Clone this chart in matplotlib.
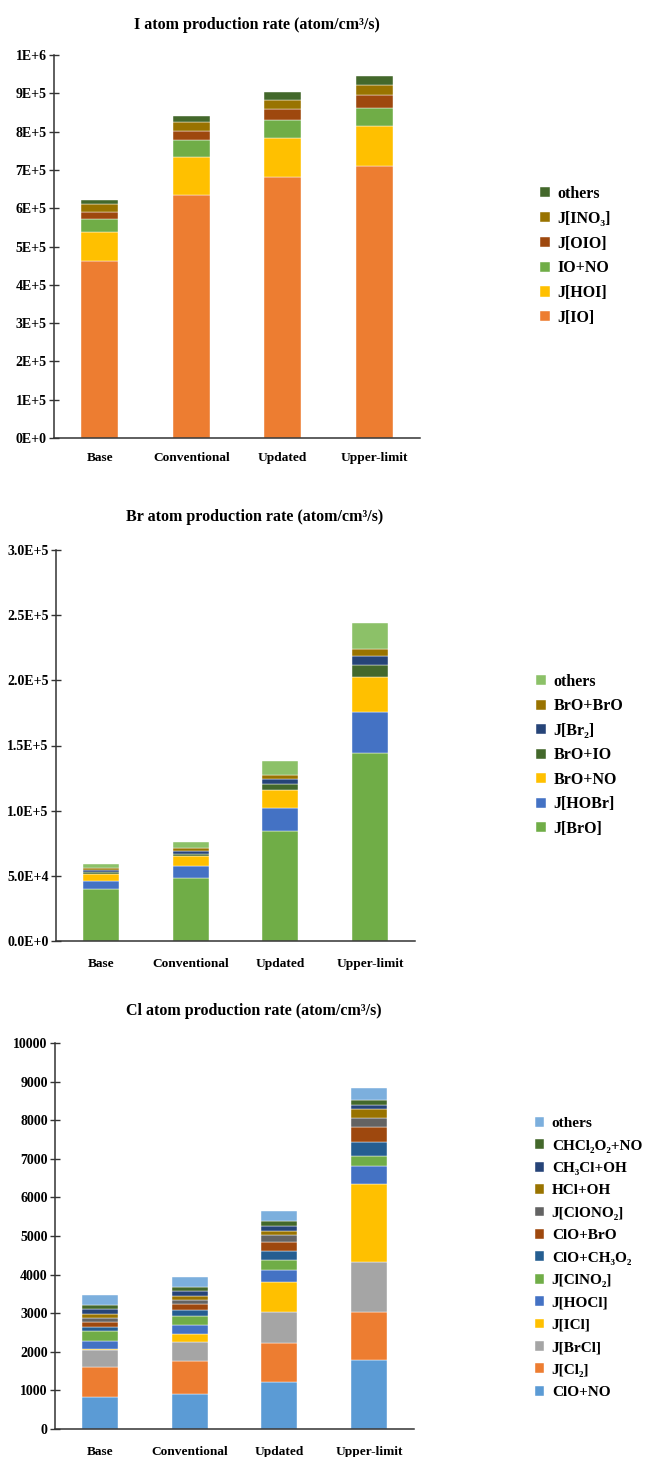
import numpy as np
import matplotlib.pyplot as plt
from matplotlib.ticker import FixedLocator, FuncFormatter

plt.rcParams['font.family'] = ['Liberation Serif', 'DejaVu Serif']
plt.rcParams['font.weight'] = 'bold'

scenarios = ["Base", "Conventional", "Updated", "Upper-limit"]

# I atom production terms (atom/cm3/s), stacked bottom to top
i_labels = ["J[IO]", "J[HOI]", "IO+NO", "J[OIO]", "J[INO₃]", "others"]
i_colors = ["#ED7D31", "#FFC000", "#70AD47", "#9E480E", "#997300", "#43682B"]
i_io = [4.61e5, 6.35e5, 6.82e5, 7.11e5]
i_hoi = [0.77e5, 0.99e5, 1.02e5, 1.04e5]
i_iono = [0.34e5, 0.43e5, 0.46e5, 0.47e5]
i_oio = [0.19e5, 0.25e5, 0.29e5, 0.34e5]
i_ino3 = [0.20e5, 0.24e5, 0.24e5, 0.26e5]
i_others = [0.10e5, 0.16e5, 0.20e5, 0.24e5]

# Br atom production terms
br_labels = ["J[BrO]", "J[HOBr]", "BrO+NO", "BrO+IO", "J[Br₂]", "BrO+BrO", "others"]
br_colors = ["#70AD47", "#4472C4", "#FFC000", "#43682B", "#264478", "#997300", "#8CC168"]
br_bro = [3.99e4, 4.86e4, 8.41e4, 14.43e4]
br_hobr = [0.64e4, 0.92e4, 1.77e4, 3.11e4]
br_brono = [0.54e4, 0.71e4, 1.43e4, 2.72e4]
br_broio = [0.10e4, 0.16e4, 0.46e4, 0.94e4]
br_br2 = [0.15e4, 0.23e4, 0.36e4, 0.70e4]
br_brobro = [0.21e4, 0.26e4, 0.33e4, 0.53e4]
br_others = [0.30e4, 0.48e4, 1.05e4, 1.94e4]

# Cl atom production terms
cl_labels = ["ClO+NO", "J[Cl₂]", "J[BrCl]", "J[ICl]", "J[HOCl]", "J[ClNO₂]",
             "ClO+CH₃O₂", "ClO+BrO", "J[ClONO₂]", "HCl+OH", "CH₃Cl+OH",
             "CHCl₂O₂+NO", "others"]
cl_colors = ["#5B9BD5", "#ED7D31", "#A5A5A5", "#FFC000", "#4472C4", "#70AD47",
             "#255E91", "#9E480E", "#636363", "#997300", "#264478", "#43682B",
             "#7CAFDD"]
cl_clono = [829, 915, 1218, 1777]
cl_cl2 = [785, 847, 1010, 1262]
cl_brcl = [440, 482, 793, 1287]
cl_icl = [26, 207, 795, 2029]
cl_hocl = [200, 233, 311, 466]
cl_clno2 = [249, 251, 259, 259]
cl_clo_ch3o2 = [113, 156, 233, 355]
cl_clo_bro = [138, 137, 226, 397]
cl_clono2 = [103, 114, 171, 225]
cl_hcl_oh = [96, 93, 121, 223]
cl_ch3cl_oh = [130, 140, 130, 122]
cl_chcl2o2 = [111, 112, 111, 111]
cl_others = [240, 240, 260, 320]

W, H = 648, 1457
fig = plt.figure(figsize=(W / 100, H / 100), dpi=100)


def px_axes(left, top, right, bottom):
    return fig.add_axes([left / W, 1 - bottom / H, (right - left) / W, (bottom - top) / H])


def stacked_panel(ax, series, labels, colors, title, ylim, ticks, fmt,
                  title_y, leg_x, leg_top, leg_size, leg_step, label_pad):
    x = np.arange(len(scenarios))
    bottom = np.zeros(len(scenarios))
    handles = []
    for vals, lab, col in zip(series, labels, colors):
        vals = np.asarray(vals, dtype=float)
        b = ax.bar(x, vals, width=0.4, bottom=bottom, color=col, label=lab,
                   edgecolor="white", linewidth=0.3)
        handles.append(b)
        bottom += vals
    ax.set_xlim(-0.5, 3.5)
    ax.set_ylim(*ylim)
    ax.yaxis.set_major_locator(FixedLocator(ticks))
    ax.yaxis.set_major_formatter(FuncFormatter(fmt))
    ax.set_xticks(x)
    ax.set_xticklabels(scenarios)
    for s in ("top", "right"):
        ax.spines[s].set_visible(False)
    for s in ("left", "bottom"):
        ax.spines[s].set_linewidth(1.1)
        ax.spines[s].set_color("#333333")
    ax.tick_params(axis="y", direction="inout", length=6.5, width=1.0,
                   color="#333333", labelsize=10, pad=2)
    ax.tick_params(axis="x", length=0, labelsize=9.6, pad=label_pad)
    for t in ax.get_xticklabels() + ax.get_yticklabels():
        t.set_fontweight("bold")
    fig.text(0.5 * (ax.get_position().x0 + ax.get_position().x1) + 0.03,
             1 - title_y / H, title, ha="center", va="center",
             fontsize=11.5, fontweight="bold")
    ax.legend(handles[::-1], labels[::-1], loc="upper left",
              bbox_to_anchor=(leg_x / W, 1 - leg_top / H),
              bbox_transform=fig.transFigure, frameon=False,
              prop={"size": leg_size, "weight": "bold"},
              handlelength=0.6, handleheight=0.6, handletextpad=0.5,
              labelspacing=leg_step, borderaxespad=0, borderpad=0)


ax1 = px_axes(54, 55, 420, 438)
stacked_panel(ax1, [i_io, i_hoi, i_iono, i_oio, i_ino3, i_others],
              i_labels, i_colors, "I atom production rate (atom/cm³/s)",
              (0, 1e6), np.arange(0, 1.01e6, 1e5),
              lambda v, p: "0E+0" if v == 0 else ("1E+6" if v >= 1e6 else "{}E+5".format(int(round(v / 1e5)))),
              25, 540, 186, 11.5, 0.55, 10)

ax2 = px_axes(56, 550, 415, 941)
stacked_panel(ax2, [br_bro, br_hobr, br_brono, br_broio, br_br2, br_brobro, br_others],
              br_labels, br_colors, "Br atom production rate (atom/cm³/s)",
              (0, 3e5), np.arange(0, 3.01e5, 5e4),
              lambda v, p: "0.0E+0" if v == 0 else "{:.1E}".format(v).replace("E+0", "E+"),
              517, 536, 674, 11.5, 0.53, 12)

ax3 = px_axes(55, 1043, 414, 1429)
stacked_panel(ax3, [cl_clono, cl_cl2, cl_brcl, cl_icl, cl_hocl, cl_clno2, cl_clo_ch3o2,
                    cl_clo_bro, cl_clono2, cl_hcl_oh, cl_ch3cl_oh, cl_chcl2o2, cl_others],
              cl_labels, cl_colors, "Cl atom production rate (atom/cm³/s)",
              (0, 10000), np.arange(0, 10001, 1000),
              lambda v, p: "{:d}".format(int(v)),
              1011, 535, 1117, 11, 0.6, 12)

fig.savefig("out.png", dpi=100)
